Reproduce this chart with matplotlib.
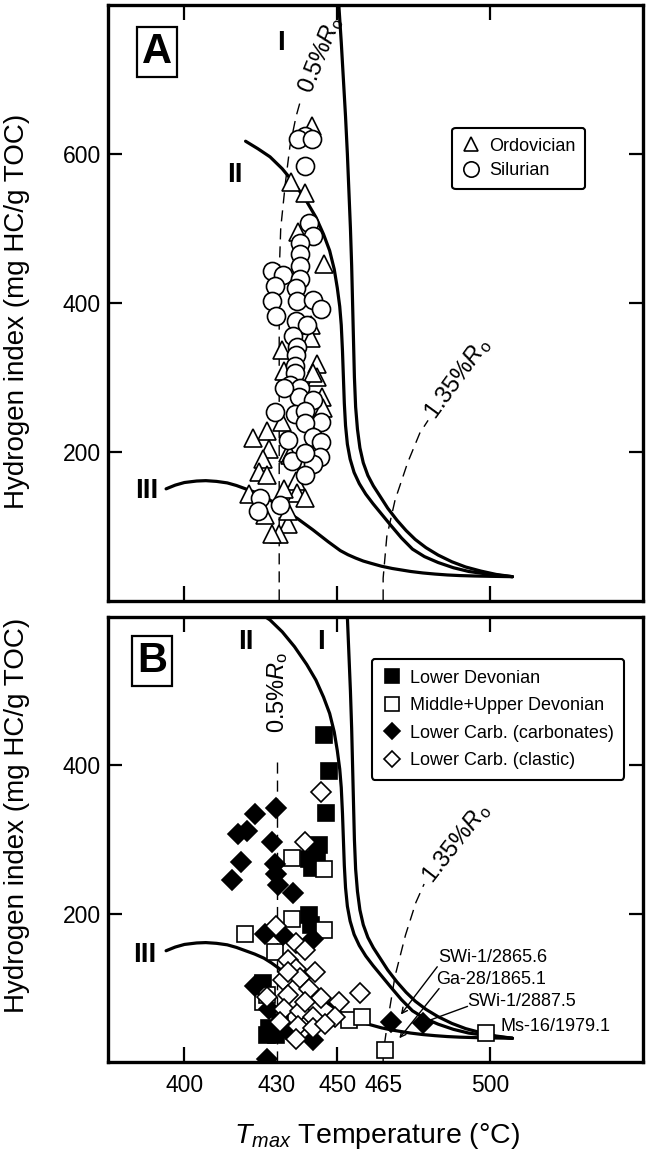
import matplotlib
matplotlib.use("Agg")
import matplotlib.pyplot as plt

# ---------------------------------------------------------------
# Data
# ---------------------------------------------------------------

# kerogen type evolution curves (Tmax, HI)
curve_I_t  = [450.5, 451.3, 452, 452.7, 453.3, 453.8, 454.3, 454.7, 455, 455.3, 455.6, 456, 456.6,
              457.4, 458.5, 460, 461.8, 464, 466.5, 469.5, 472.5, 475.5, 479, 483, 487.5, 492,
              497, 502, 507.3]
curve_I_hi = [800, 750, 700, 650, 600, 550, 500, 450, 400, 350, 300, 260, 230,
              205, 185, 168, 154, 140, 124, 108, 94, 82, 71, 61, 52, 45,
              39.5, 35, 32]

curve_II_t  = [420, 424, 428, 432, 436, 440, 443, 445.5, 447.5, 449, 450, 450.8, 451.3, 451.7,
               452, 452.3, 452.7, 453.3, 454.2, 455.5, 457.2, 459.3, 461.7, 464.5, 467.5, 471,
               474.6, 478.5, 483, 488, 493, 500, 507.3]
curve_II_hi = [617, 607, 596, 580, 560, 536, 515, 492, 470, 445, 420, 395, 370, 335,
               300, 265, 235, 210, 190, 172, 157, 143, 130, 116, 101, 84,
               69, 59, 51, 44, 39, 35, 32]

curve_III_t  = [394, 397, 400, 404, 407, 410.5, 414, 417, 420, 423, 426, 428.5, 431, 434, 437,
                439.5, 442, 444.5, 447, 449, 451, 453.5, 456, 458.5, 461, 464.5, 468, 471, 474,
                478, 482, 486, 490, 495, 500, 507.3]
curve_III_hi = [150, 155, 158.5, 160.5, 161, 160, 158, 154.5, 150, 145.5, 140, 133.5, 126, 118, 110,
                102.5, 95, 87, 79, 73, 67, 61.5, 57, 53, 50, 46, 43, 41, 39,
                37, 35.5, 34.3, 33.5, 32.9, 32.5, 32]

# vitrinite reflectance iso-lines, panel A
ro05_a_t  = [431, 431, 431.5, 433, 434.5, 436.5, 438]
ro05_a_hi = [0, 440, 500, 560, 610, 650, 672]
ro135_a_t  = [465, 465, 466.2, 468.9, 473, 477, 479.7]
ro135_a_hi = [0, 30, 86, 135, 185, 225, 242]

# vitrinite reflectance iso-lines, panel B
ro05_b_t  = [430.3, 430.3]
ro05_b_hi = [0, 405]
ro135_b_t  = [465, 465, 466.9, 468.9, 472.3, 475.7, 478.4]
ro135_b_hi = [0, 12, 66, 116, 171, 215, 240]

# Panel A samples
ordovician_t  = [441.6, 435, 439.3, 437.2, 445.7, 441.3, 441.3, 431.9, 443.3, 443.3, 432.5, 444.9,
                 445.3, 431.9, 426.9, 422.4, 427.8, 425.8, 433.9, 424.4, 436.6, 436.8, 439.5, 426.9,
                 421.1, 426.5, 433.9, 431, 428.8, 434.5, 442, 433.9, 432.5]
ordovician_hi = [637, 562, 547, 495, 452, 370, 352, 337, 318, 300, 308, 273,
                 258, 240, 228, 218, 203, 190, 198, 173, 160, 145, 138, 168,
                 143, 115, 103, 90, 90, 195, 305, 120, 150]

silurian_t  = [439.3, 437.2, 441.6, 439.3, 440.6, 442.2, 437.9, 437.9, 437.9, 428.5, 432.3, 437.9,
               429.6, 436.6, 428.5, 436.8, 442.2, 444.7, 430.1, 436.6, 440, 435.5, 436.8, 436.6,
               436.3, 436.3, 434.5, 437.9, 437.6, 442, 429.6, 436.3, 439.3, 444.7, 439.5, 442,
               444.7, 433.9, 435.2, 444.4, 442, 439.3, 424.7, 424.2, 431.2, 439.3, 432.5]
silurian_hi = [624, 620, 620, 584, 507, 490, 480, 465, 450, 442, 437, 432,
               422, 420, 402, 402, 404, 392, 382, 375, 370, 355, 340, 330,
               315, 305, 290, 285, 273, 270, 253, 250, 255, 240, 238, 220,
               213, 215, 188, 193, 183, 168, 138, 120, 128, 198, 285]

# Panel B samples
lower_dev_t  = [445.7, 447.4, 446.3, 444, 440.9, 441.7, 443.3, 440.9, 441.3, 425.8, 427.8, 430.1, 427.1, 431.2]
lower_dev_hi = [441, 392, 336, 292, 274, 261, 280, 198, 185, 106, 46, 36, 36, 54]

mid_up_dev_t  = [435.2, 445.7, 435.2, 445.7, 419.7, 429.6, 425.8, 453.8, 458.1, 465.5, 498.6, 427.1]
mid_up_dev_hi = [275, 260, 193, 178, 173, 148, 81, 56, 61, 16.5, 38.6, 91]

carb_t  = [423.1, 429.8, 417.4, 420.4, 428.5, 418.4, 415.7, 429.6, 430.1, 430.5, 435.5, 426.5,
           432.3, 442, 423.1, 427.8, 429.2, 442.2, 427.1, 467.5, 477.9, 433.2]
carb_hi = [335, 342, 307, 312, 297, 270, 245, 267, 253, 238, 228, 173,
           171, 166, 103, 71, 41, 29, 4, 54, 52, 44]

clastic_t  = [444.7, 439.3, 430.1, 436.6, 439.3, 433.9, 436.6, 442.6, 432.3, 437.9, 440.6, 427.1,
              433.9, 444.7, 450.7, 457.5, 432.5, 437.9, 442, 449.4, 431.2, 437.2, 442, 446,
              436.6, 433.9, 439.3]
clastic_hi = [364, 296, 183, 161, 151, 138, 126, 121, 111, 113, 98, 88,
              91, 86, 81, 93, 71, 69, 61, 61, 54, 49, 46, 51,
              31, 121, 81]

# sample annotations: (text, text position, arrow start, arrow tip)
sample_labels = ["SWi-1/2865.6", "Ga-28/1865.1", "SWi-1/2887.5", "Ms-16/1979.1"]
label_pos   = [(483.1, 140.7), (482.4, 110.9), (492.5, 82.1), (503.5, 48.5)]
arrow_start = [(482.7, 128.4), (483.3, 99), (492.6, 75), None]
arrow_tip   = [(470.8, 64), (470.3, 32), (480, 56), None]
arrow_head  = [True, True, False, False]

x_ticks_marked = [400, 450, 500]
x_tick_labels = [400, 430, 450, 465, 500]

# ---------------------------------------------------------------
# Style
# ---------------------------------------------------------------

plt.rcParams['font.family'] = ['Liberation Sans', 'DejaVu Sans']
plt.rcParams['mathtext.fontset'] = 'custom'
plt.rcParams['mathtext.rm'] = 'Liberation Sans'
plt.rcParams['mathtext.it'] = 'Liberation Sans:italic'
plt.rcParams['mathtext.bf'] = 'Liberation Sans:bold'

W, H = 647, 1149
fig = plt.figure(figsize=(W / 100, H / 100), dpi=100)
axA = fig.add_axes([108 / W, 1 - 600.5 / H, 535 / W, 595.5 / H])
axB = fig.add_axes([108 / W, 1 - 1062 / H, 535 / W, 445 / H])

CURVE_KW = dict(color='black', lw=2.3, solid_capstyle='round', solid_joinstyle='round', zorder=2)
DASH_KW = dict(color='black', lw=1.0, dashes=(8, 5), zorder=1)
OPEN = dict(linestyle='none', mfc='white', mec='black', mew=1.2, zorder=4)
FILLED = dict(linestyle='none', mfc='black', mec='black', mew=1.2, zorder=4)
YLABEL = "Hydrogen index (mg HC/g TOC)"


def style_axes(ax, ylim, yticks):
    ax.set_xlim(375, 550)
    ax.set_ylim(*ylim)
    for sp in ax.spines.values():
        sp.set_linewidth(2.4)
    ax.set_yticks(yticks)
    ax.tick_params(axis='y', direction='in', length=10, width=1.6,
                   right=True, labelsize=16.5, pad=5)
    ax.tick_params(axis='x', direction='in', length=11, width=1.6,
                   top=True, labelsize=16.5, pad=9)


def draw_curves(ax):
    ax.plot(curve_I_t, curve_I_hi, **CURVE_KW)
    ax.plot(curve_II_t, curve_II_hi, **CURVE_KW)
    ax.plot(curve_III_t, curve_III_hi, **CURVE_KW)


def add_legend(ax, anchor, spacing, pad):
    leg = ax.legend(loc='upper right', bbox_to_anchor=anchor, borderaxespad=0,
                    fontsize=13, frameon=True, fancybox=True, framealpha=1,
                    handlelength=1.0, handletextpad=0.5, labelspacing=spacing,
                    borderpad=pad, markerscale=0.85)
    leg.get_frame().set_edgecolor('black')
    leg.get_frame().set_linewidth(1.5)
    return leg


# ---------------------------------------------------------------
# Panel A
# ---------------------------------------------------------------

style_axes(axA, (0, 800), [200, 400, 600])
axA.set_xticks(x_ticks_marked)
axA.set_xticklabels([])
draw_curves(axA)
axA.plot(ro05_a_t, ro05_a_hi, **DASH_KW)
axA.plot(ro135_a_t, ro135_a_hi, **DASH_KW)

axA.plot(ordovician_t, ordovician_hi, marker='^', ms=12.5, label='Ordovician', **OPEN)
axA.plot(silurian_t, silurian_hi, marker='o', ms=13, label='Silurian', **OPEN)

axA.text(444.5, 733, r"0.5%$R_{\rm o}$", rotation=68, fontsize=17,
         ha='center', va='center', rotation_mode='anchor')
axA.text(489.5, 298, r"1.35%$R_{\rm o}$", rotation=54, fontsize=17,
         ha='center', va='center', rotation_mode='anchor')

axA.text(431.6, 749, "I", fontsize=20, fontweight='bold', ha='center', va='center')
axA.text(416.6, 572, "II", fontsize=20, fontweight='bold', ha='center', va='center')
axA.text(387.8, 146.5, "III", fontsize=20, fontweight='bold', ha='center', va='center')

axA.text(391, 737.5, "A", fontsize=30, fontweight='bold', ha='center', va='center',
         bbox=dict(boxstyle='square,pad=0.12', fc='white', ec='black', lw=1.6))

add_legend(axA, (0.892, 0.794), 0.42, 0.55)

axA.set_ylabel(YLABEL, fontsize=20)
axA.yaxis.set_label_coords(-0.146, 0.485)

# ---------------------------------------------------------------
# Panel B
# ---------------------------------------------------------------

style_axes(axB, (0, 600), [200, 400])
axB.set_xticks(x_tick_labels)
axB.set_xticklabels([str(v) for v in x_tick_labels])
for tick, val in zip(axB.xaxis.get_major_ticks(), x_tick_labels):
    if val not in x_ticks_marked:
        tick.tick1line.set_visible(False)
        tick.tick2line.set_visible(False)

draw_curves(axB)
axB.plot(ro05_b_t, ro05_b_hi, **DASH_KW)
axB.plot(ro135_b_t, ro135_b_hi, **DASH_KW)

axB.plot(lower_dev_t, lower_dev_hi, marker='s', ms=12, label='Lower Devonian', **FILLED)
axB.plot(mid_up_dev_t, mid_up_dev_hi, marker='s', ms=12, label='Middle+Upper Devonian', **OPEN)
axB.plot(carb_t, carb_hi, marker='D', ms=10, label='Lower Carb. (carbonates)', **FILLED)
axB.plot(clastic_t, clastic_hi, marker='D', ms=10, label='Lower Carb. (clastic)', **OPEN)

axB.text(430.5, 498, r"0.5%$R_{\rm o}$", rotation=90, fontsize=17,
         ha='center', va='center')
axB.text(489, 295, r"1.35%$R_{\rm o}$", rotation=52, fontsize=17,
         ha='center', va='center', rotation_mode='anchor')

axB.text(420, 565.7, "II", fontsize=20, fontweight='bold', ha='center', va='center')
axB.text(444.7, 565.7, "I", fontsize=20, fontweight='bold', ha='center', va='center')
axB.text(387, 144, "III", fontsize=20, fontweight='bold', ha='center', va='center')

axB.text(389.4, 541, "B", fontsize=30, fontweight='bold', ha='center', va='center',
         bbox=dict(boxstyle='square,pad=0.12', fc='white', ec='black', lw=1.6))

for txt, pos, a0, a1, head in zip(sample_labels, label_pos, arrow_start, arrow_tip, arrow_head):
    axB.text(pos[0], pos[1], txt, fontsize=13, ha='left', va='center', zorder=6)
    if a0 is not None:
        axB.annotate('', xy=a1, xytext=a0, zorder=6,
                     arrowprops=dict(arrowstyle='->' if head else '-', lw=1.0,
                                     color='black', shrinkA=0, shrinkB=0,
                                     mutation_scale=10))

add_legend(axB, (0.965, 0.906), 0.58, 0.6)

axB.set_ylabel(YLABEL, fontsize=20)
axB.yaxis.set_label_coords(-0.146, 0.555)
axB.set_xlabel(r"$T_{max}$ Temperature (°C)", fontsize=20.5)
axB.xaxis.set_label_coords(0.503, -0.132)

fig.savefig("out.png", dpi=100)
